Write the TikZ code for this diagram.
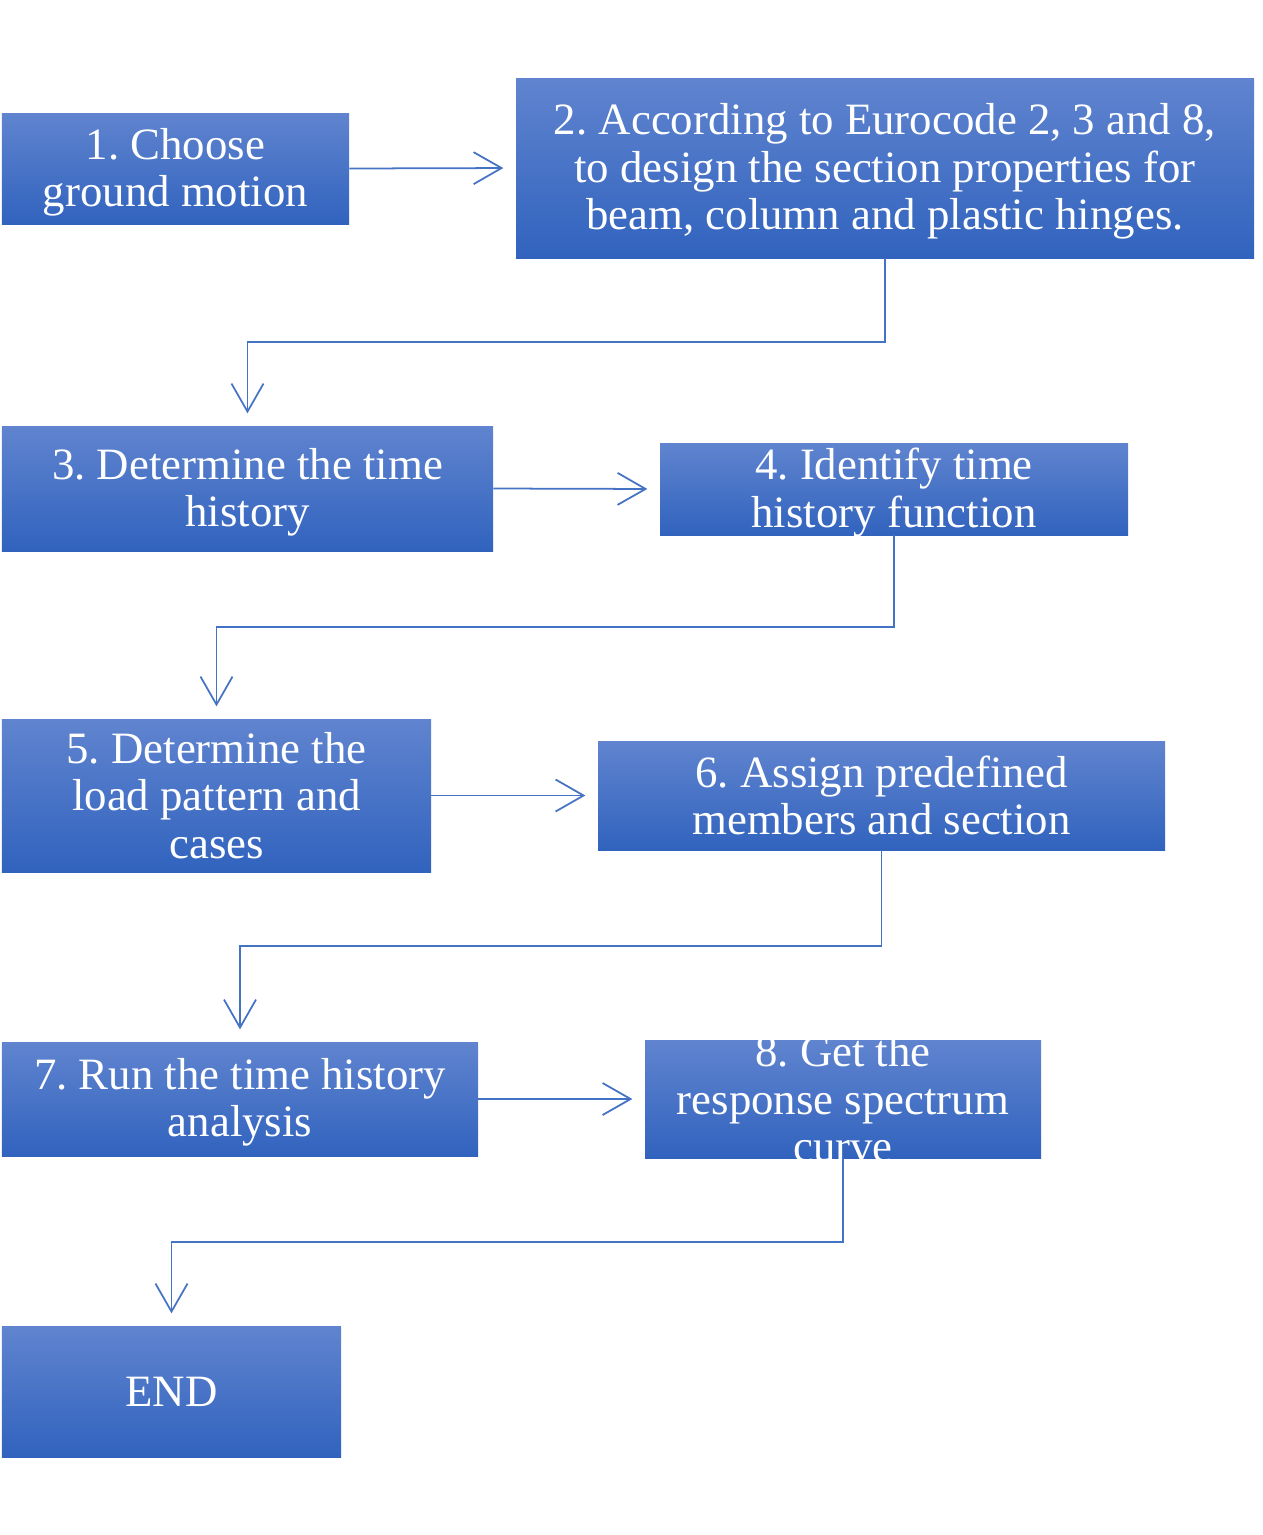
\documentclass[tikz,border=0pt]{standalone}
\usepackage{fontspec}
\setmainfont{Liberation Serif}
\usetikzlibrary{arrows.meta}
\definecolor{boxtop}{HTML}{6084CF}
\definecolor{boxbot}{HTML}{3163BE}
\definecolor{linkblue}{HTML}{4472C4}
\frenchspacing

\begin{document}
\begin{tikzpicture}[
	box/.style={rectangle,top color=boxtop,bottom color=boxbot,inner sep=0pt},
	txt/.style={text=white,align=center,font=\fontsize{25.5}{27}\selectfont},
	lowtxt/.style={txt,yshift=-2pt},
	flow/.style={draw=linkblue,line width=1pt,shorten >=7pt,-{Straight Barb[length=0.56cm,width=0.64cm,line width=1pt]}}
	]
	\useasboundingbox (0,0) rectangle (25.26,-30.7);
	\node[box,minimum width=6.94cm,minimum height=2.22cm,label={[lowtxt]center:1. Choose\\ground motion}] (b1) at (3.51,-3.37) {};
	\node[box,minimum width=14.76cm,minimum height=3.6cm,label={[lowtxt]center:2. According to Eurocode 2, 3 and 8,\\to design the section properties for\\beam, column and plastic hinges.}] (b2) at (17.7,-3.36) {};
	\node[box,minimum width=9.82cm,minimum height=2.5cm,label={[lowtxt]center:3. Determine the time\\history}] (b3) at (4.95,-9.77) {};
	\node[box,minimum width=9.36cm,minimum height=1.84cm,label={[lowtxt]center:4. Identify time\\history function}] (b4) at (17.88,-9.78) {};
	\node[box,minimum width=8.58cm,minimum height=3.06cm,label={[txt]center:5. Determine the\\load pattern and\\cases}] (b5) at (4.33,-15.91) {};
	\node[box,minimum width=11.34cm,minimum height=2.18cm,label={[txt]center:6. Assign predefined\\members and section}] (b6) at (17.63,-15.91) {};
	\node[box,minimum width=9.52cm,minimum height=2.28cm,label={[lowtxt]center:7. Run the time history\\analysis}] (b7) at (4.8,-21.98) {};
	\node[box,minimum width=7.92cm,minimum height=2.36cm,label={[txt]center:8. Get the\\response spectrum\\curve}] (b8) at (16.86,-21.98) {};
	\node[box,minimum width=6.78cm,minimum height=2.62cm,label={[txt]center:END}] (end) at (3.43,-27.83) {};

	\coordinate (k1) at (0,-6.84);
	\coordinate (k2) at (0,-12.54);
	\coordinate (k3) at (0,-18.92);
	\coordinate (k4) at (0,-24.84);

	\draw[flow] (b1.east) -- (b2.west);
	\draw[flow] (b2.south) -- (b2.south |- k1) -| (b3.north);
	\draw[flow] (b3.east) -- (b4.west);
	\draw[flow] (b4.south) -- (b4.south |- k2) -| (b5.north);
	\draw[flow] (b5.east) -- (b6.west);
	\draw[flow] (b6.south) -- (b6.south |- k3) -| (b7.north);
	\draw[flow] (b7.east) -- (b8.west);
	\draw[flow] (b8.south) -- (b8.south |- k4) -| (end.north);
\end{tikzpicture}
\end{document}
